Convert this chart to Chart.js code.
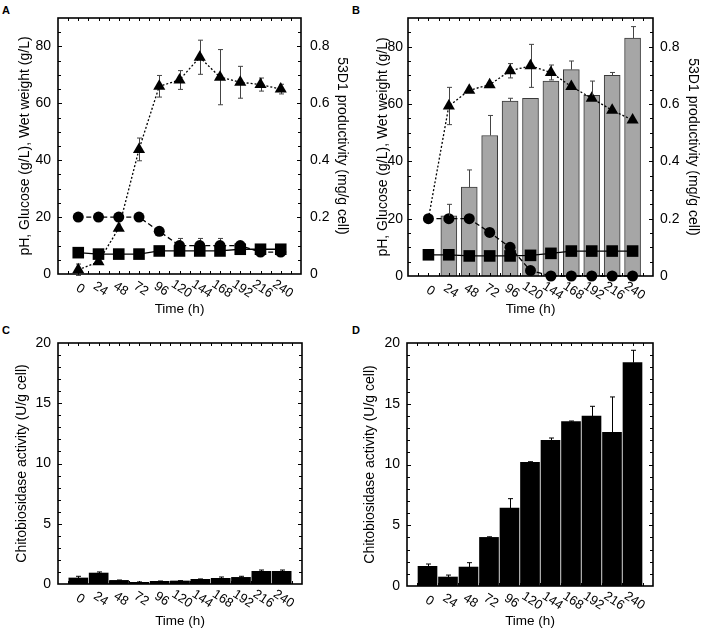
<!DOCTYPE html>
<html><head><meta charset="utf-8">
<script src="https://cdn.jsdelivr.net/npm/chart.js@4.4.1/dist/chart.umd.min.js"></script>
<style>
body{margin:0;background:#fff;width:701px;height:629px;position:relative;overflow:hidden;font-family:"Liberation Sans",Arial,sans-serif}
canvas{position:absolute}
.lbl{position:absolute;font:bold 11px "Liberation Sans",Arial,sans-serif;color:#000;line-height:11px}
</style></head><body>
<div class="lbl" style="left:2px;top:5px">A</div>
<div class="lbl" style="left:352px;top:5px">B</div>
<div class="lbl" style="left:2px;top:325px">C</div>
<div class="lbl" style="left:352px;top:325px">D</div>
<canvas id="cA" width="350" height="317" style="left:0;top:0"></canvas>
<canvas id="cB" width="351" height="317" style="left:350px;top:0"></canvas>
<canvas id="cC" width="350" height="314" style="left:0;top:315px"></canvas>
<canvas id="cD" width="351" height="314" style="left:350px;top:315px"></canvas>
<script>
// ---------- data ----------
const times = [0, 24, 48, 72, 96, 120, 144, 168, 192, 216, 240];
const timeLabels = ['0', '24', '48', '72', '96', '120', '144', '168', '192', '216', '240'];

// Panel A
const aPH = [7.5, 7.0, 7.0, 7.0, 8.1, 8.1, 8.1, 8.1, 8.7, 8.7, 8.7];
const aGlucose = [20, 20, 20, 20, 15, 10, 10, 10, 10, 7.7, 7.7];
const aGlucoseErr = [0, 0, 0, 0, 0, 2.5, 2.5, 2.5, 0, 0, 0];
const aProductivity = [0.015, 0.043, 0.161, 0.438, 0.66, 0.682, 0.762, 0.692, 0.674, 0.666, 0.65];
const aProductivityErr = [0.02, 0, 0, 0.04, 0.038, 0.033, 0.06, 0.097, 0.056, 0.023, 0.017];

// Panel B
const bWetWeight = [0, 21, 31, 49, 61, 62, 68, 72, 63, 70, 83];
const bWetWeightErr = [0, 4, 6, 7, 1, 0, 0, 3, 5, 1, 4];
const bPH = [7.4, 7.4, 7.0, 7.0, 7.0, 7.2, 7.9, 8.7, 8.7, 8.7, 8.7];
const bGlucose = [20, 20, 20, 15.2, 10, 1.9, 0, 0, 0, 0, 0];
const bProductivity = [0.2, 0.593, 0.648, 0.667, 0.716, 0.733, 0.71, 0.661, 0.62, 0.578, 0.544];
const bProductivityErr = [0, 0.065, 0, 0, 0.025, 0.075, 0.026, 0, 0, 0, 0];

// Panel C
const cActivity = [0.5, 0.91, 0.3, 0.14, 0.22, 0.25, 0.39, 0.47, 0.55, 1.05, 1.05];
const cActivityErr = [0.14, 0.09, 0.03, 0.03, 0.03, 0.03, 0.03, 0.11, 0.09, 0.11, 0.11];

// Panel D
const dActivity = [1.62, 0.74, 1.56, 4.0, 6.42, 10.18, 11.99, 13.53, 13.99, 12.65, 18.38];
const dActivityErr = [0.19, 0.16, 0.36, 0.05, 0.77, 0.05, 0.19, 0.05, 0.8, 2.91, 1.02];

// ---------- helpers ----------
const FONT = '"Liberation Sans", Arial, sans-serif';
const pts = arr => times.map((t, i) => ({x: t, y: arr[i]}));

const errPlugin = {
  id: 'errBars',
  beforeDatasetsDraw(chart) { drawErr(chart, false); },
  afterDatasetsDraw(chart) { drawErr(chart, true); }
};
function drawErr(chart, after) {
  const ctx = chart.ctx;
  chart.data.datasets.forEach((ds, i) => {
    if (!ds.errorBars) return;
    const isBar = ds.type === 'bar';
    if (isBar !== after) return;
    const meta = chart.getDatasetMeta(i);
    const ys = chart.scales[meta.yAxisID];
    ctx.save();
    ctx.strokeStyle = ds.errorColor || '#000';
    ctx.lineWidth = 1;
    meta.data.forEach((el, j) => {
      const e = ds.errorBars[j];
      if (!e) return;
      const v = ds.data[j].y;
      const x = Math.round(el.x) + 0.5;
      const top = ys.getPixelForValue(v + e);
      const bot = isBar ? ys.getPixelForValue(v) : ys.getPixelForValue(v - e);
      ctx.beginPath();
      ctx.moveTo(x, top); ctx.lineTo(x, bot);
      ctx.moveTo(x - 2.5, top); ctx.lineTo(x + 2.5, top);
      if (!isBar) { ctx.moveTo(x - 2.5, bot); ctx.lineTo(x + 2.5, bot); }
      ctx.stroke();
    });
    ctx.restore();
  });
}

const framePlugin = {
  id: 'frameTicks',
  afterDraw(chart, args, o) {
    const {ctx, chartArea: a, scales} = chart;
    const xs = scales.x, ys = scales.y;
    ctx.save();
    ctx.strokeStyle = '#000';
    ctx.lineWidth = 1;
    ctx.beginPath();
    for (let v = o.xFrom; v <= o.xTo + 1e-9; v += o.xStep) {
      const px = Math.round(xs.getPixelForValue(v)) + 0.5;
      ctx.moveTo(px, a.bottom); ctx.lineTo(px, a.bottom - 3);
      ctx.moveTo(px, a.top); ctx.lineTo(px, a.top + 3);
    }
    for (let v = o.yStep; v < ys.max - 1e-9; v += o.yStep) {
      const py = Math.round(ys.getPixelForValue(v)) + 0.5;
      const major = Math.abs(v / o.yMajor - Math.round(v / o.yMajor)) < 1e-6;
      const len = major ? 4 : 3;
      ctx.moveTo(a.left, py); ctx.lineTo(a.left + len, py);
      ctx.moveTo(a.right, py); ctx.lineTo(a.right - len, py);
    }
    ctx.stroke();
    ctx.lineWidth = 1.6;
    ctx.strokeRect(a.left, a.top, a.right - a.left, a.bottom - a.top);
    // rotated x tick labels
    ctx.fillStyle = '#000';
    ctx.font = '13px ' + FONT;
    ctx.textAlign = 'center';
    ctx.textBaseline = 'middle';
    timeLabels.forEach((lab, i) => {
      const px = xs.getPixelForValue(times[i]);
      ctx.save();
      ctx.translate(px + 2, a.bottom + 15);
      ctx.rotate(33 * Math.PI / 180);
      ctx.fillText(lab, 0, 0);
      ctx.restore();
    });
    ctx.restore();
  }
};

function xScale(H, bottom) {
  return {
    type: 'linear', min: -24, max: 264, offset: false,
    afterBuildTicks: s => { s.ticks = times.map(v => ({value: v})); },
    grid: {display: false, drawTicks: false}, border: {display: false},
    ticks: {display: false},
    title: {display: true, text: 'Time (h)', color: '#000', font: {family: FONT, size: 13.5}, padding: 0},
    afterFit: s => { s.height = H - bottom; }
  };
}
function yScale(pos, max, step, width, pad, titleText, titlePad) {
  return {
    position: pos, min: 0, max: max,
    afterBuildTicks: s => {
      s.ticks = s.ticks.filter(t => Math.abs(t.value / step - Math.round(t.value / step)) < 1e-6);
    },
    ticks: {stepSize: step, color: '#000', font: {family: FONT, size: 14}, padding: pad},
    grid: {display: false, drawTicks: false}, border: {display: false},
    title: {display: true, text: titleText, color: '#000', font: {family: FONT, size: 14}, padding: {top: titlePad, bottom: 0}},
    afterFit: s => { s.width = width; }
  };
}
const lineDs = (label, data, yAxisID, style, radius, dash, errs, extra) => Object.assign({
  type: 'line', label, data, yAxisID,
  borderColor: '#000', borderWidth: 1.3, borderDash: dash,
  pointStyle: style, pointRadius: radius, pointHoverRadius: radius,
  pointBackgroundColor: '#000', pointBorderColor: '#000', pointBorderWidth: 0,
  tension: 0, fill: false, clip: false,
  errorBars: errs, errorColor: '#444'
}, extra || {});

const baseOpts = {
  responsive: false, animation: false, devicePixelRatio: 1,
  plugins: {legend: {display: false}, tooltip: {enabled: false}},
  events: []
};

// ---------- Panel A ----------
new Chart(document.getElementById('cA'), {
  type: 'line',
  data: {datasets: [
    lineDs('pH', pts(aPH), 'y', 'rect', 8.2, [], null, {order: 3}),
    lineDs('Glucose (g/L)', pts(aGlucose), 'y', 'circle', 5.5, [5, 3], aGlucoseErr, {order: 2}),
    lineDs('53D1 productivity (mg/g cell)', pts(aProductivity), 'y2', 'triangle', 7, [2, 2], aProductivityErr, {order: 1})
  ]},
  options: Object.assign({}, baseOpts, {
    layout: {padding: {top: 18, left: 0, right: 0, bottom: 0}},
    scales: {
      x: xScale(317, 274),
      y: yScale('left', 90, 20, 58, 7, 'pH, Glucose (g/L), Wet weight (g/L)', 17),
      y2: yScale('right', 0.9, 0.2, 49, 9, '53D1 productivity (mg/g cell)', 0)
    },
    plugins: Object.assign({}, baseOpts.plugins, {frameTicks: {xFrom: -12, xTo: 252, xStep: 12, yStep: 5, yMajor: 20}})
  }),
  plugins: [errPlugin, framePlugin]
});

// ---------- Panel B ----------
new Chart(document.getElementById('cB'), {
  type: 'line',
  data: {datasets: [
    lineDs('pH', pts(bPH), 'y', 'rect', 8.2, [], null, {order: 3}),
    lineDs('Glucose (g/L)', pts(bGlucose), 'y', 'circle', 5.5, [5, 3], null, {order: 2}),
    lineDs('53D1 productivity (mg/g cell)', pts(bProductivity), 'y2', 'triangle', 7, [2, 2], bProductivityErr,
      {order: 4, pointRadius: times.map((t, i) => i === 0 ? 0 : 7)}),
    {type: 'bar', label: 'Wet weight (g/L)', data: pts(bWetWeight), yAxisID: 'y',
      backgroundColor: '#a6a6a6', borderColor: '#3a3a3a', borderWidth: 1, borderSkipped: 'start',
      barThickness: 16, order: 10, errorBars: bWetWeightErr, errorColor: '#444'}
  ]},
  options: Object.assign({}, baseOpts, {
    layout: {padding: {top: 18, left: 0, right: 0, bottom: 0}},
    scales: {
      x: xScale(317, 276),
      y: yScale('left', 90, 20, 58, 5, 'pH, Glucose (g/L), Wet weight (g/L)', 25),
      y2: yScale('right', 0.9, 0.2, 48, 7, '53D1 productivity (mg/g cell)', 0)
    },
    plugins: Object.assign({}, baseOpts.plugins, {frameTicks: {xFrom: -12, xTo: 252, xStep: 12, yStep: 5, yMajor: 20}})
  }),
  plugins: [errPlugin, framePlugin]
});

// ---------- Panel C & D ----------
function activityChart(id, values, errs, H, left, right, top, bottom, titlePad) {
  const W = +document.getElementById(id).width;
  new Chart(document.getElementById(id), {
    type: 'bar',
    data: {datasets: [
      {type: 'bar', label: 'Chitobiosidase activity (U/g cell)', data: pts(values), yAxisID: 'y',
        backgroundColor: '#000', borderWidth: 0, barThickness: 19, errorBars: errs, errorColor: '#000'}
    ]},
    options: Object.assign({}, baseOpts, {
      layout: {padding: {top: top, left: 0, right: W - right, bottom: 0}},
      scales: {
        x: xScale(H, bottom),
        y: yScale('left', 20, 5, left, 7, 'Chitobiosidase activity (U/g cell)', titlePad)
      },
      plugins: Object.assign({}, baseOpts.plugins, {frameTicks: {xFrom: -12, xTo: 252, xStep: 12, yStep: 1, yMajor: 5}})
    }),
    plugins: [errPlugin, framePlugin]
  });
}
activityChart('cC', cActivity, cActivityErr, 314, 58, 302, 28, 269, 14);
activityChart('cD', dActivity, dActivityErr, 314, 57, 303, 28, 271, 12);
</script>
</body></html>
